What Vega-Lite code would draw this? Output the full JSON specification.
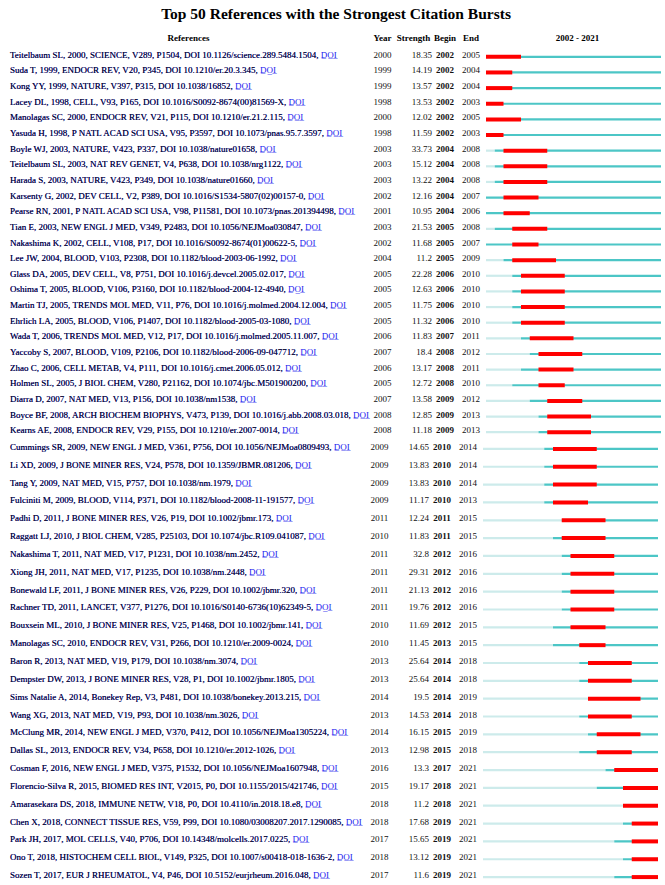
{
  "$schema": "https://vega.github.io/schema/vega-lite/v6.json",
  "padding": {"left": 10, "top": 6, "right": 0, "bottom": 0},
  "background": "white",
  "title": {"text": "Top 50 References with the Strongest Citation Bursts", "font": "Liberation Serif", "fontSize": 15.5, "fontWeight": "bold", "anchor": "middle", "offset": 12, "color": "#000"},
  "config": {
    "view": {"stroke": null},
    "title": {"font": "Liberation Serif", "fontSize": 9, "fontWeight": "bold", "offset": 4, "color": "#000"},
    "text": {"font": "Liberation Serif", "fontSize": 9, "color": "#111"},
    "concat": {"spacing": 0}
  },
  "spacing": 0,
  "data": {"values": [
    {"n": 1, "ref": "Teitelbaum SL, 2000, SCIENCE, V289, P1504, DOI 10.1126/science.289.5484.1504", "year": 2000, "strength": 18.35, "begin": 2002, "end": 2005},
    {"n": 2, "ref": "Suda T, 1999, ENDOCR REV, V20, P345, DOI 10.1210/er.20.3.345", "year": 1999, "strength": 14.19, "begin": 2002, "end": 2004},
    {"n": 3, "ref": "Kong YY, 1999, NATURE, V397, P315, DOI 10.1038/16852", "year": 1999, "strength": 13.57, "begin": 2002, "end": 2004},
    {"n": 4, "ref": "Lacey DL, 1998, CELL, V93, P165, DOI 10.1016/S0092-8674(00)81569-X", "year": 1998, "strength": 13.53, "begin": 2002, "end": 2003},
    {"n": 5, "ref": "Manolagas SC, 2000, ENDOCR REV, V21, P115, DOI 10.1210/er.21.2.115", "year": 2000, "strength": 12.02, "begin": 2002, "end": 2005},
    {"n": 6, "ref": "Yasuda H, 1998, P NATL ACAD SCI USA, V95, P3597, DOI 10.1073/pnas.95.7.3597", "year": 1998, "strength": 11.59, "begin": 2002, "end": 2003},
    {"n": 7, "ref": "Boyle WJ, 2003, NATURE, V423, P337, DOI 10.1038/nature01658", "year": 2003, "strength": 33.73, "begin": 2004, "end": 2008},
    {"n": 8, "ref": "Teitelbaum SL, 2003, NAT REV GENET, V4, P638, DOI 10.1038/nrg1122", "year": 2003, "strength": 15.12, "begin": 2004, "end": 2008},
    {"n": 9, "ref": "Harada S, 2003, NATURE, V423, P349, DOI 10.1038/nature01660", "year": 2003, "strength": 13.22, "begin": 2004, "end": 2008},
    {"n": 10, "ref": "Karsenty G, 2002, DEV CELL, V2, P389, DOI 10.1016/S1534-5807(02)00157-0", "year": 2002, "strength": 12.16, "begin": 2004, "end": 2007},
    {"n": 11, "ref": "Pearse RN, 2001, P NATL ACAD SCI USA, V98, P11581, DOI 10.1073/pnas.201394498", "year": 2001, "strength": 10.95, "begin": 2004, "end": 2006},
    {"n": 12, "ref": "Tian E, 2003, NEW ENGL J MED, V349, P2483, DOI 10.1056/NEJMoa030847", "year": 2003, "strength": 21.53, "begin": 2005, "end": 2008},
    {"n": 13, "ref": "Nakashima K, 2002, CELL, V108, P17, DOI 10.1016/S0092-8674(01)00622-5", "year": 2002, "strength": 11.68, "begin": 2005, "end": 2007},
    {"n": 14, "ref": "Lee JW, 2004, BLOOD, V103, P2308, DOI 10.1182/blood-2003-06-1992", "year": 2004, "strength": 11.2, "begin": 2005, "end": 2009},
    {"n": 15, "ref": "Glass DA, 2005, DEV CELL, V8, P751, DOI 10.1016/j.devcel.2005.02.017", "year": 2005, "strength": 22.28, "begin": 2006, "end": 2010},
    {"n": 16, "ref": "Oshima T, 2005, BLOOD, V106, P3160, DOI 10.1182/blood-2004-12-4940", "year": 2005, "strength": 12.63, "begin": 2006, "end": 2010},
    {"n": 17, "ref": "Martin TJ, 2005, TRENDS MOL MED, V11, P76, DOI 10.1016/j.molmed.2004.12.004", "year": 2005, "strength": 11.75, "begin": 2006, "end": 2010},
    {"n": 18, "ref": "Ehrlich LA, 2005, BLOOD, V106, P1407, DOI 10.1182/blood-2005-03-1080", "year": 2005, "strength": 11.32, "begin": 2006, "end": 2010},
    {"n": 19, "ref": "Wada T, 2006, TRENDS MOL MED, V12, P17, DOI 10.1016/j.molmed.2005.11.007", "year": 2006, "strength": 11.83, "begin": 2007, "end": 2011},
    {"n": 20, "ref": "Yaccoby S, 2007, BLOOD, V109, P2106, DOI 10.1182/blood-2006-09-047712", "year": 2007, "strength": 18.4, "begin": 2008, "end": 2012},
    {"n": 21, "ref": "Zhao C, 2006, CELL METAB, V4, P111, DOI 10.1016/j.cmet.2006.05.012", "year": 2006, "strength": 13.17, "begin": 2008, "end": 2011},
    {"n": 22, "ref": "Holmen SL, 2005, J BIOL CHEM, V280, P21162, DOI 10.1074/jbc.M501900200", "year": 2005, "strength": 12.72, "begin": 2008, "end": 2010},
    {"n": 23, "ref": "Diarra D, 2007, NAT MED, V13, P156, DOI 10.1038/nm1538", "year": 2007, "strength": 13.58, "begin": 2009, "end": 2012},
    {"n": 24, "ref": "Boyce BF, 2008, ARCH BIOCHEM BIOPHYS, V473, P139, DOI 10.1016/j.abb.2008.03.018", "year": 2008, "strength": 12.85, "begin": 2009, "end": 2013},
    {"n": 25, "ref": "Kearns AE, 2008, ENDOCR REV, V29, P155, DOI 10.1210/er.2007-0014", "year": 2008, "strength": 11.18, "begin": 2009, "end": 2013},
    {"n": 26, "ref": "Cummings SR, 2009, NEW ENGL J MED, V361, P756, DOI 10.1056/NEJMoa0809493", "year": 2009, "strength": 14.65, "begin": 2010, "end": 2014},
    {"n": 27, "ref": "Li XD, 2009, J BONE MINER RES, V24, P578, DOI 10.1359/JBMR.081206", "year": 2009, "strength": 13.83, "begin": 2010, "end": 2014},
    {"n": 28, "ref": "Tang Y, 2009, NAT MED, V15, P757, DOI 10.1038/nm.1979", "year": 2009, "strength": 13.83, "begin": 2010, "end": 2014},
    {"n": 29, "ref": "Fulciniti M, 2009, BLOOD, V114, P371, DOI 10.1182/blood-2008-11-191577", "year": 2009, "strength": 11.17, "begin": 2010, "end": 2013},
    {"n": 30, "ref": "Padhi D, 2011, J BONE MINER RES, V26, P19, DOI 10.1002/jbmr.173", "year": 2011, "strength": 12.24, "begin": 2011, "end": 2015},
    {"n": 31, "ref": "Raggatt LJ, 2010, J BIOL CHEM, V285, P25103, DOI 10.1074/jbc.R109.041087", "year": 2010, "strength": 11.83, "begin": 2011, "end": 2015},
    {"n": 32, "ref": "Nakashima T, 2011, NAT MED, V17, P1231, DOI 10.1038/nm.2452", "year": 2011, "strength": 32.8, "begin": 2012, "end": 2016},
    {"n": 33, "ref": "Xiong JH, 2011, NAT MED, V17, P1235, DOI 10.1038/nm.2448", "year": 2011, "strength": 29.31, "begin": 2012, "end": 2016},
    {"n": 34, "ref": "Bonewald LF, 2011, J BONE MINER RES, V26, P229, DOI 10.1002/jbmr.320", "year": 2011, "strength": 21.13, "begin": 2012, "end": 2016},
    {"n": 35, "ref": "Rachner TD, 2011, LANCET, V377, P1276, DOI 10.1016/S0140-6736(10)62349-5", "year": 2011, "strength": 19.76, "begin": 2012, "end": 2016},
    {"n": 36, "ref": "Bouxsein ML, 2010, J BONE MINER RES, V25, P1468, DOI 10.1002/jbmr.141", "year": 2010, "strength": 11.69, "begin": 2012, "end": 2015},
    {"n": 37, "ref": "Manolagas SC, 2010, ENDOCR REV, V31, P266, DOI 10.1210/er.2009-0024", "year": 2010, "strength": 11.45, "begin": 2013, "end": 2015},
    {"n": 38, "ref": "Baron R, 2013, NAT MED, V19, P179, DOI 10.1038/nm.3074", "year": 2013, "strength": 25.64, "begin": 2014, "end": 2018},
    {"n": 39, "ref": "Dempster DW, 2013, J BONE MINER RES, V28, P1, DOI 10.1002/jbmr.1805", "year": 2013, "strength": 25.64, "begin": 2014, "end": 2018},
    {"n": 40, "ref": "Sims Natalie A, 2014, Bonekey Rep, V3, P481, DOI 10.1038/bonekey.2013.215", "year": 2014, "strength": 19.5, "begin": 2014, "end": 2019},
    {"n": 41, "ref": "Wang XG, 2013, NAT MED, V19, P93, DOI 10.1038/nm.3026", "year": 2013, "strength": 14.53, "begin": 2014, "end": 2018},
    {"n": 42, "ref": "McClung MR, 2014, NEW ENGL J MED, V370, P412, DOI 10.1056/NEJMoa1305224", "year": 2014, "strength": 16.15, "begin": 2015, "end": 2019},
    {"n": 43, "ref": "Dallas SL, 2013, ENDOCR REV, V34, P658, DOI 10.1210/er.2012-1026", "year": 2013, "strength": 12.98, "begin": 2015, "end": 2018},
    {"n": 44, "ref": "Cosman F, 2016, NEW ENGL J MED, V375, P1532, DOI 10.1056/NEJMoa1607948", "year": 2016, "strength": 13.3, "begin": 2017, "end": 2021},
    {"n": 45, "ref": "Florencio-Silva R, 2015, BIOMED RES INT, V2015, P0, DOI 10.1155/2015/421746", "year": 2015, "strength": 19.17, "begin": 2018, "end": 2021},
    {"n": 46, "ref": "Amarasekara DS, 2018, IMMUNE NETW, V18, P0, DOI 10.4110/in.2018.18.e8", "year": 2018, "strength": 11.2, "begin": 2018, "end": 2021},
    {"n": 47, "ref": "Chen X, 2018, CONNECT TISSUE RES, V59, P99, DOI 10.1080/03008207.2017.1290085", "year": 2018, "strength": 17.68, "begin": 2019, "end": 2021},
    {"n": 48, "ref": "Park JH, 2017, MOL CELLS, V40, P706, DOI 10.14348/molcells.2017.0225", "year": 2017, "strength": 15.65, "begin": 2019, "end": 2021},
    {"n": 49, "ref": "Ono T, 2018, HISTOCHEM CELL BIOL, V149, P325, DOI 10.1007/s00418-018-1636-2", "year": 2018, "strength": 13.12, "begin": 2019, "end": 2021},
    {"n": 50, "ref": "Sozen T, 2017, EUR J RHEUMATOL, V4, P46, DOI 10.5152/eurjrheum.2016.048", "year": 2017, "strength": 11.6, "begin": 2019, "end": 2021}
  ]},
  "transform": [
    {"calculate": "datum.ref + ', D\u0332O\u0332I\u0332'", "as": "full"},
    {"calculate": "datum.ref + ','", "as": "pre"},
    {"calculate": "max(datum.year, 2002)", "as": "ys"},
    {"calculate": "datum.end + 1", "as": "e1"},
    {"calculate": "2002", "as": "t0"},
    {"calculate": "2022", "as": "t1"}
  ],
  "vconcat": [
    {
      "transform": [{"filter": "datum.n <= 25"}],
      "spacing": 0,
      "hconcat": [
        {"width": 357, "height": 391, "title": "References",
         "layer": [
           {"mark": {"type": "text", "align": "left", "color": "#1a1aee"},
            "encoding": {"x": {"value": 0}, "y": {"field": "n", "type": "ordinal", "axis": null, "scale": {"paddingInner": 0, "paddingOuter": 0}}, "text": {"field": "full", "type": "nominal"}}},
           {"mark": {"type": "text", "align": "left"},
            "encoding": {"x": {"value": 0}, "y": {"field": "n", "type": "ordinal", "axis": null, "scale": {"paddingInner": 0, "paddingOuter": 0}}, "text": {"field": "pre", "type": "nominal"}}}
         ]},
        {"width": 25, "height": 391, "title": "Year",
         "mark": {"type": "text", "align": "center"},
         "encoding": {"y": {"field": "n", "type": "ordinal", "axis": null, "scale": {"paddingInner": 0, "paddingOuter": 0}}, "text": {"field": "year", "type": "nominal"}}},
        {"width": 37, "height": 391, "title": "Strength",
         "mark": {"type": "text", "align": "right"},
         "encoding": {"x": {"value": 37}, "y": {"field": "n", "type": "ordinal", "axis": null, "scale": {"paddingInner": 0, "paddingOuter": 0}}, "text": {"field": "strength", "type": "nominal"}}},
        {"width": 26, "height": 391, "title": "Begin",
         "mark": {"type": "text", "align": "center", "fontWeight": "bold"},
         "encoding": {"y": {"field": "n", "type": "ordinal", "axis": null, "scale": {"paddingInner": 0, "paddingOuter": 0}}, "text": {"field": "begin", "type": "nominal"}}},
        {"width": 26, "height": 391, "title": "End",
         "mark": {"type": "text", "align": "center"},
         "encoding": {"y": {"field": "n", "type": "ordinal", "axis": null, "scale": {"paddingInner": 0, "paddingOuter": 0}}, "text": {"field": "end", "type": "nominal"}}},
        {"width": 175, "height": 391, "title": {"text": "2002 - 2021", "dx": 4},
         "layer": [
           {"mark": {"type": "rule", "color": "#cdebeb", "strokeWidth": 2.2, "yOffset": 2},
            "encoding": {"y": {"field": "n", "type": "ordinal", "axis": null, "scale": {"paddingInner": 0, "paddingOuter": 0}}, "x": {"field": "t0", "type": "quantitative", "scale": {"domain": [2002, 2022], "nice": false, "zero": false}, "axis": null}, "x2": {"field": "ys"}}},
           {"mark": {"type": "rule", "color": "#4cc6c6", "strokeWidth": 2.2, "yOffset": 2},
            "encoding": {"y": {"field": "n", "type": "ordinal"}, "x": {"field": "ys", "type": "quantitative"}, "x2": {"field": "t1"}}},
           {"mark": {"type": "rule", "color": "#ff0000", "strokeWidth": 4, "yOffset": 2},
            "encoding": {"y": {"field": "n", "type": "ordinal"}, "x": {"field": "begin", "type": "quantitative"}, "x2": {"field": "e1"}}}
         ]}
      ]
    },
    {
      "transform": [{"filter": "datum.n > 25"}],
      "spacing": 0,
      "hconcat": [
        {"width": 357, "height": 446,
         "layer": [
           {"mark": {"type": "text", "align": "left", "color": "#1a1aee"},
            "encoding": {"x": {"value": 0}, "y": {"field": "n", "type": "ordinal", "axis": null, "scale": {"paddingInner": 0, "paddingOuter": 0}}, "text": {"field": "full", "type": "nominal"}}},
           {"mark": {"type": "text", "align": "left"},
            "encoding": {"x": {"value": 0}, "y": {"field": "n", "type": "ordinal", "axis": null, "scale": {"paddingInner": 0, "paddingOuter": 0}}, "text": {"field": "pre", "type": "nominal"}}}
         ]},
        {"width": 25, "height": 446,
         "mark": {"type": "text", "align": "center"},
         "encoding": {"y": {"field": "n", "type": "ordinal", "axis": null, "scale": {"paddingInner": 0, "paddingOuter": 0}}, "text": {"field": "year", "type": "nominal"}}},
        {"width": 37, "height": 446,
         "mark": {"type": "text", "align": "right"},
         "encoding": {"x": {"value": 37}, "y": {"field": "n", "type": "ordinal", "axis": null, "scale": {"paddingInner": 0, "paddingOuter": 0}}, "text": {"field": "strength", "type": "nominal"}}},
        {"width": 26, "height": 446,
         "mark": {"type": "text", "align": "center", "fontWeight": "bold"},
         "encoding": {"y": {"field": "n", "type": "ordinal", "axis": null, "scale": {"paddingInner": 0, "paddingOuter": 0}}, "text": {"field": "begin", "type": "nominal"}}},
        {"width": 26, "height": 446,
         "mark": {"type": "text", "align": "center"},
         "encoding": {"y": {"field": "n", "type": "ordinal", "axis": null, "scale": {"paddingInner": 0, "paddingOuter": 0}}, "text": {"field": "end", "type": "nominal"}}},
        {"width": 175, "height": 446,
         "layer": [
           {"mark": {"type": "rule", "color": "#cdebeb", "strokeWidth": 2.2, "yOffset": 2},
            "encoding": {"y": {"field": "n", "type": "ordinal", "axis": null, "scale": {"paddingInner": 0, "paddingOuter": 0}}, "x": {"field": "t0", "type": "quantitative", "scale": {"domain": [2002, 2022], "nice": false, "zero": false}, "axis": null}, "x2": {"field": "ys"}}},
           {"mark": {"type": "rule", "color": "#4cc6c6", "strokeWidth": 2.2, "yOffset": 2},
            "encoding": {"y": {"field": "n", "type": "ordinal"}, "x": {"field": "ys", "type": "quantitative"}, "x2": {"field": "t1"}}},
           {"mark": {"type": "rule", "color": "#ff0000", "strokeWidth": 4, "yOffset": 2},
            "encoding": {"y": {"field": "n", "type": "ordinal"}, "x": {"field": "begin", "type": "quantitative"}, "x2": {"field": "e1"}}}
         ]}
      ]
    }
  ]
}
